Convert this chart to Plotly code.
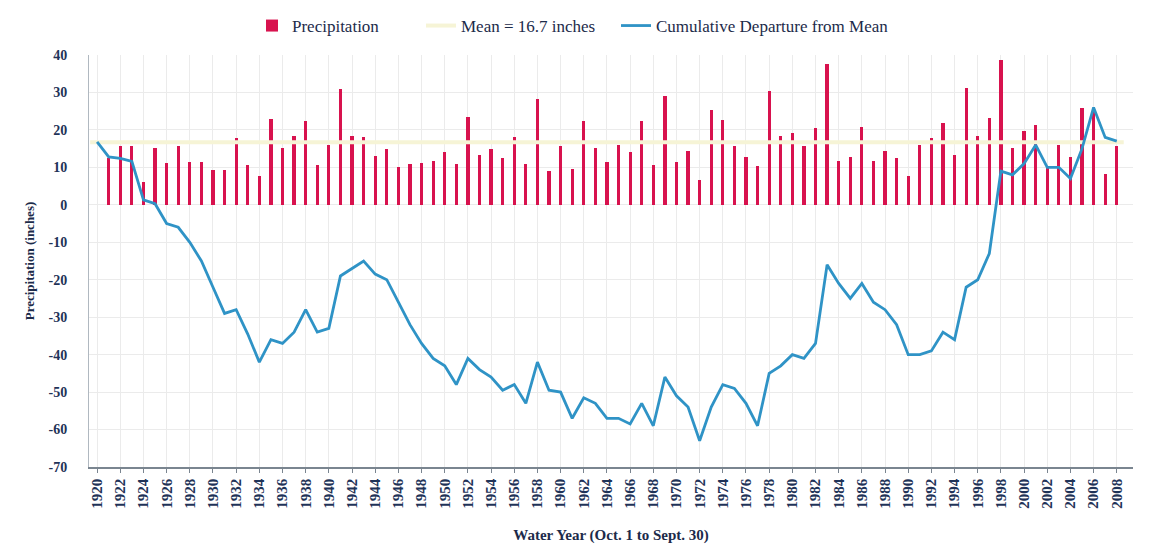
import plotly.graph_objects as go

# water years with a precipitation bar
bar_years = list(range(1921, 2009))
precip = [12.5, 15.6, 15.6, 6.0, 15.1, 11.1, 15.6, 11.3, 11.3, 9.3,
          9.3, 17.8, 10.7, 7.6, 22.9, 15.1, 18.4, 22.5, 10.7, 16.0,
          30.9, 18.4, 18.1, 13.1, 14.9, 10.2, 10.9, 11.1, 11.7, 14.2,
          10.9, 23.4, 13.4, 15.0, 12.5, 18.2, 10.9, 28.3, 8.9, 15.6,
          9.5, 22.3, 15.1, 11.3, 16.0, 14.2, 22.5, 10.7, 29.1, 11.3,
          14.4, 6.5, 25.4, 22.7, 15.8, 12.9, 10.4, 30.3, 18.4, 19.1,
          15.8, 20.5, 37.6, 11.6, 12.7, 20.9, 11.6, 14.4, 12.6, 7.6,
          16.0, 17.8, 21.8, 13.4, 31.2, 18.4, 23.2, 38.7, 15.1, 19.6,
          21.2, 9.8, 16.0, 12.9, 25.8, 25.4, 8.2, 15.6]

# cumulative departure from the mean, 1920-2008
line_years = list(range(1920, 2009))
cum_dep = [16.8, 12.8, 12.4, 11.6, 1.3, 0.3, -5.0, -6.0, -10.0, -15.0,
           -22.0, -29.0, -28.0, -34.5, -42.0, -36.0, -37.0, -34.0, -28.0, -34.0,
           -33.0, -19.0, -17.0, -15.0, -18.5, -20.0, -26.0, -32.0, -37.0, -41.0,
           -43.0, -48.0, -41.0, -44.0, -46.0, -49.5, -48.0, -53.0, -42.0, -49.5,
           -50.0, -57.0, -51.5, -53.0, -57.0, -57.0, -58.5, -53.0, -59.0, -46.0,
           -51.0, -54.0, -63.0, -54.0, -48.0, -49.0, -53.0, -59.0, -45.0, -43.0,
           -40.0, -41.0, -37.0, -16.0, -21.0, -25.0, -21.0, -26.0, -28.0, -32.0,
           -40.0, -40.0, -39.0, -34.0, -36.0, -22.0, -20.0, -13.0, 9.0, 8.0,
           11.0, 16.0, 10.0, 10.0, 7.0, 15.0, 26.0, 18.0, 17.0]

mean_precip = 16.7
y_ticks = list(range(-70, 41, 10))
x_ticks = list(range(1920, 2009, 2))

navy = "#1f3358"
serif = "Liberation Serif"

fig = go.Figure()
fig.add_trace(go.Bar(x=bar_years, y=precip, name="Precipitation",
                     marker=dict(color="#d8124e", line=dict(width=0)),
                     width=0.28, legend="legend"))
fig.add_trace(go.Scatter(x=[line_years[0] - 0.6, line_years[-1] + 0.6],
                         y=[mean_precip, mean_precip],
                         mode="lines", name="Mean = 16.7 inches",
                         line=dict(color="#f6f4d6", width=4), legend="legend2"))
fig.add_trace(go.Scatter(x=line_years, y=cum_dep, mode="lines",
                         name="Cumulative Departure from Mean",
                         line=dict(color="#2f93c6", width=2.8), legend="legend3"))

# three legends so each entry sits where the original has it
legend_style = dict(orientation="h", xref="container", xanchor="left",
                    yref="container", y=1.0, yanchor="top", itemwidth=30,
                    font=dict(family=serif, size=17, color="#1c2b4a"))

fig.update_layout(
    width=1163, height=547,
    margin=dict(l=81, r=38, t=47, b=88),
    paper_bgcolor="white", plot_bgcolor="white",
    font=dict(family=serif, color=navy, size=13),
    bargap=0,
    legend=dict(x=0.2098, **legend_style),
    legend2=dict(x=0.3551, **legend_style),
    legend3=dict(x=0.5228, **legend_style),
    showlegend=True,
)
fig.update_xaxes(range=[1919.3, 2009.4], tickmode="array", tickvals=x_ticks,
                 ticktext=[f"<b>{t}</b>" for t in x_ticks], tickangle=-90,
                 tickfont=dict(size=15, color=navy), automargin=False,
                 showgrid=True, gridcolor="#ebebeb", gridwidth=1,
                 showline=True, linecolor="#7a8590", linewidth=1.5,
                 ticks="outside", ticklen=4, tickcolor="#7a8590",
                 title=dict(text="<b>Water Year (Oct. 1 to Sept. 30)</b>",
                            font=dict(size=15, color="#1c2b4a"), standoff=22))
fig.update_yaxes(range=[-70, 40], tickmode="array", tickvals=y_ticks,
                 ticktext=[f"<b>{t}</b>" for t in y_ticks],
                 tickfont=dict(size=14, color=navy), automargin=False,
                 showgrid=True, gridcolor="#ebebeb", gridwidth=1,
                 zeroline=False, showline=True, linecolor="#b0b8c0", linewidth=1,
                 ticks="", ticklabelstandoff=18,
                 title=dict(text="<b>Precipitation (inches)</b>",
                            font=dict(size=13, color="#1c2b4a"), standoff=10))

fig.write_html("out.html")
